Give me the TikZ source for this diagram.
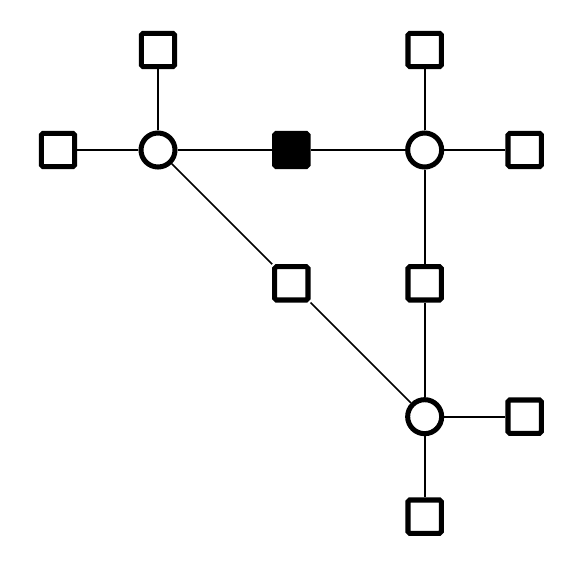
\documentclass[tikz,border=0pt]{standalone}
\usetikzlibrary{positioning}
\tikzset{
  var/.style={draw,circle,line width=4.3pt,minimum size=1.02cm,inner sep=0pt,fill=white},
  fac/.style={draw,rectangle,line width=4.3pt,minimum size=1cm,inner sep=0pt,rounded corners=1.5pt,fill=white},
  obs/.style={fac,fill=black},
  edge/.style={line width=1.45pt}
}
\begin{document}
\begin{tikzpicture}
\useasboundingbox (-4.74,-12.69) rectangle (12.87,4.5);
\node (u)   at (0,0)  [var] {};
\node (v)   at (8,0)  [var] {};
\node (w)   at (8,-8) [var] {};
%
\node (f)   at (4,0)  [obs] {};
\node (g)   at (4,-4) [fac] {};
\node (h)   at (8,-4) [fac] {};
%
\node (u1)  at (0,3)   [fac] {};
\node (u2)  at (-3,0)  [fac] {};
\node (v1)  at (8,3)   [fac] {};
\node (v2)  at (11,0)  [fac] {};
\node (w1)  at (11,-8) [fac] {};
\node (w2)  at (8,-11) [fac] {};
%
\draw[edge] (u) -- (f) -- (v);
\draw[edge] (u) -- (g) -- (w);
\draw[edge] (v) -- (h) -- (w);
% leaves
\draw[edge] (u) -- (u1);
\draw[edge] (u) -- (u2);
\draw[edge] (v) -- (v1);
\draw[edge] (v) -- (v2);
\draw[edge] (w) -- (w1);
\draw[edge] (w) -- (w2);
\end{tikzpicture}
\end{document}
